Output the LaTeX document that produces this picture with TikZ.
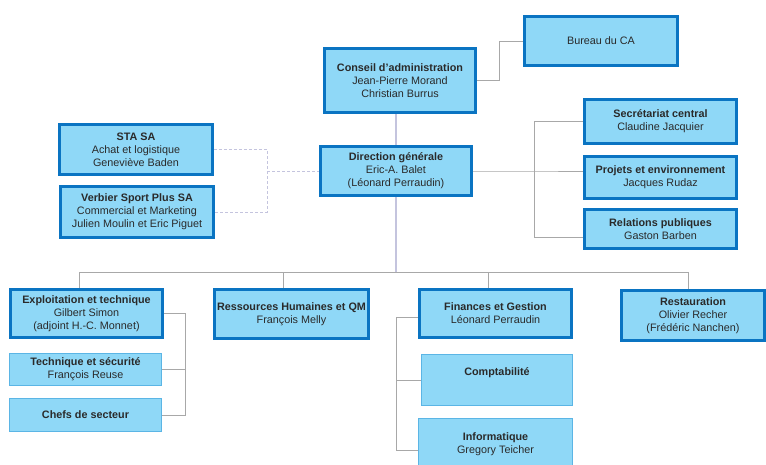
\documentclass[tikz,border=0pt]{standalone}
\usepackage{fontspec}
\setmainfont{Liberation Sans}
\definecolor{boxfill}{HTML}{8FD8F7}
\definecolor{boxline}{HTML}{0A74C2}
\definecolor{subline}{HTML}{5BB5E5}
\definecolor{linkgray}{HTML}{A8A8A8}
\definecolor{lilac}{HTML}{C4C4DE}
\definecolor{ink}{HTML}{2A2A2A}

\begin{document}
\begin{tikzpicture}[x=1pt,y=-1pt,
    main/.style = {draw=boxline, line width=2.6pt, fill=boxfill, align=center, inner sep=1pt, text=ink, font=\fontsize{10.8}{13}\selectfont},
    sub/.style = {main, draw=subline, line width=1pt},
    link/.style = {draw=linkgray, line width=0.9pt},
    tie/.style = {draw=lilac, line width=1.4pt},
    dot/.style = {draw=lilac, line width=0.9pt, densely dashed}]
        \useasboundingbox (0,0) rectangle (766,465);
        \node[main, minimum width=151, minimum height=64] (ca) at (400,80.5) {\textbf{Conseil d'administration}\\Jean-Pierre Morand\\Christian Burrus};
        \node[main, minimum width=153, minimum height=49] (bureau) at (601,41) {Bureau du CA};
        \node[main, minimum width=151, minimum height=49] (dg) at (396,171) {\textbf{Direction générale}\\Eric-A. Balet\\(Léonard Perraudin)};
        \node[main, minimum width=153, minimum height=50] (sta) at (136,149.5) {\textbf{STA SA}\\Achat et logistique\\Geneviève Baden};
        \node[main, minimum width=153, minimum height=51] (vsp) at (137,212) {\textbf{Verbier Sport Plus SA}\\Commercial et Marketing\\Julien Moulin et Eric Piguet};
        \node[main, minimum width=152, minimum height=44] (sec) at (660.5,121.5) {\textbf{Secrétariat central}\\Claudine Jacquier};
        \node[main, minimum width=152, minimum height=42] (proj) at (660.5,177.5) {\textbf{Projets et environnement}\\Jacques Rudaz};
        \node[main, minimum width=152, minimum height=39] (rel) at (660.5,229) {\textbf{Relations publiques}\\Gaston Barben};
        \node[main, minimum width=152, minimum height=48] (expl) at (86.5,313.5) {\textbf{Exploitation et technique}\\Gilbert Simon\\(adjoint H.-C. Monnet)};
        \node[sub, minimum width=152, minimum height=32] (tech) at (85.5,369.5) {\textbf{Technique et sécurité}\\François Reuse};
        \node[sub, minimum width=152, minimum height=33] (chefs) at (85.5,415) {\textbf{Chefs de secteur}};
        \node[main, minimum width=154, minimum height=49] (rh) at (291.5,314) {\textbf{Ressources Humaines et QM}\\François Melly};
        \node[main, minimum width=152, minimum height=48] (fin) at (495.5,313.5) {\textbf{Finances et Gestion}\\Léonard Perraudin};
        \node[sub, minimum width=151, minimum height=51] (compta) at (497,380) {\textbf{Comptabilité}\\\strut};
        \node[sub, minimum width=154, minimum height=51] (info) at (495.5,444) {\textbf{Informatique}\\Gregory Teicher};
        \node[main, minimum width=143, minimum height=50] (rest) at (693,315.5) {\textbf{Restauration}\\Olivier Recher\\(Frédéric Nanchen)};
        \coordinate (bus) at (396,272);
        \coordinate (rbar) at (534,171);
        \coordinate (lbar) at (267,171);
        \coordinate (ebar) at (185,300);
        \coordinate (fbar) at (396,300);
        \draw[link] (ca.east) -- ++(23,0) |- (bureau.west);
        \draw[tie] (dg.north) -- (dg.north |- ca.south);
        \draw[tie] (dg.south) -- (bus);
        \draw[link] ([xshift=-7pt]expl.north) |- (bus);
        \draw[link] ([xshift=-8pt]rh.north) -- ([xshift=-8pt]rh.north |- bus);
        \draw[link] ([xshift=-7pt]fin.north) -- ([xshift=-7pt]fin.north |- bus);
        \draw[link] ([xshift=-5pt]rest.north) |- (bus);
        \draw[link] (dg.east) -- (rbar) -- (rbar -| proj.west);
        \draw[link] (sec.west) -| ([yshift=-8pt]rel.west -| rbar) -- ([yshift=-8pt]rel.west);
        \draw[dot] (sta.east) -| (vsp.east -| lbar) -- (vsp.east);
        \draw[dot] (lbar) -- (dg.west);
        \draw[link] (expl.east) -| (chefs.east -| ebar) -- (chefs.east);
        \draw[link] (tech.east) -- (tech.east -| ebar);
        \draw[link] ([yshift=-3.5pt]fin.west) -| ([yshift=-6pt]info.west -| fbar) -- ([yshift=-6pt]info.west);
        \draw[link] (compta.west) -- (compta.west -| fbar);
\end{tikzpicture}
\end{document}
